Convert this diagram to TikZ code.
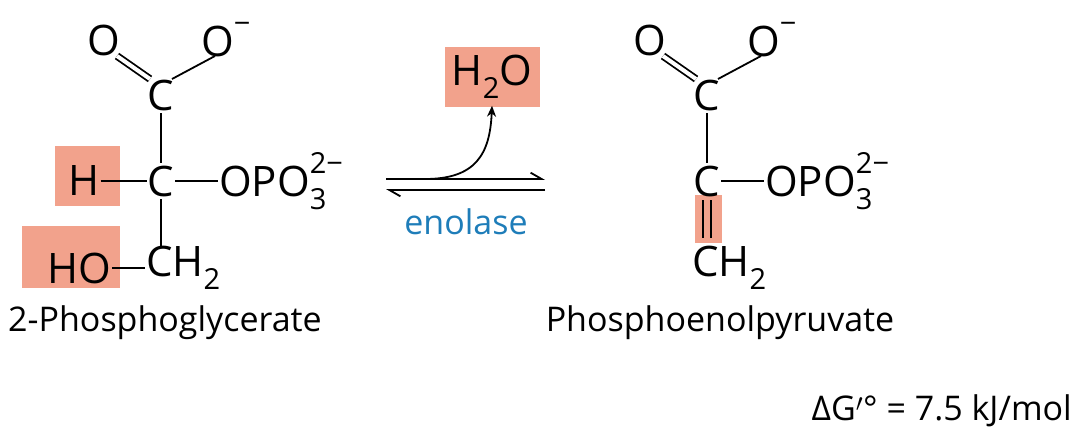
\documentclass[tikz,border=0pt]{standalone}
\usepackage{fontspec}
\setmainfont{Open Sans}
\usetikzlibrary{arrows.meta,calc}
\definecolor{hl}{RGB}{242,162,140}
\definecolor{enz}{RGB}{30,125,185}
\newcommand{\supr}[1]{\raisebox{0.55em}{\fontsize{29}{29}\selectfont #1}}
\newcommand{\subr}[1]{\raisebox{-0.3em}{\fontsize{29}{29}\selectfont #1}}
\newcommand{\supsub}[2]{\makebox[0pt][l]{\raisebox{0.55em}{\fontsize{29}{29}\selectfont #1}}\raisebox{-0.3em}{\fontsize{29}{29}\selectfont #2}}
\begin{document}
\begin{tikzpicture}[x=1pt,y=-1pt,
  atom/.style={inner sep=1pt,font=\fontsize{42}{42}\selectfont},
  lbl/.style={inner sep=0pt,font=\fontsize{34}{34}\selectfont},
  bond/.style={line width=1.8pt},
  dbl/.style={line width=1.8pt,double,double distance=4pt}]
\useasboundingbox (0,0) rectangle (1082,442);
% highlight boxes
\fill[hl] (55,146) rectangle (120,206);
\fill[hl] (22,226) rectangle (120,288);
\fill[hl] (445,47) rectangle (540,107);
\fill[hl] (695,195) rectangle (722,243);
% left molecule
\node[atom] (L1) at (161,95) {C};
\node[atom] (L2) at (161,181) {C};
\node[atom,anchor=west] (L3) at (145,268) {CH\subr{2}};
\node[atom] (LOa) at (104,40) {O};
\node[atom,anchor=west] (LOb) at (200,40) {O\supr{−}};
\node[atom] (LH) at (84,181) {H};
\node[atom,anchor=east] (LHO) at (112,268) {HO};
\node[atom,anchor=west] (LP) at (218,181) {OPO\supsub{2−}{3}};
\draw[dbl] ($(L1)+(-11,-16)$) -- ($(LOa)+(13,16)$);
\draw[bond] ($(L1)+(11,-16)$) -- ($(LOb.west)+(15,16)$);
\draw[bond] ($(L1)+(0,18)$) -- ($(L2)+(0,-18)$);
\draw[bond] ($(L2)+(0,18)$) -- ($(L2)+(0,67)$);
\draw[bond] (LH.east) -- (L2.west);
\draw[bond] (L2.east) -- (LP.west);
\draw[bond] (LHO.east) -- (L3.west);
\node[lbl] (Lname) at (165,323) {2-Phosphoglycerate};
% right molecule
\node[atom] (R1) at (707,95) {C};
\node[atom] (R2) at (707,181) {C};
\node[atom,anchor=west] (R3) at (691,268) {CH\subr{2}};
\node[atom] (ROa) at (650,40) {O};
\node[atom,anchor=west] (ROb) at (746,40) {O\supr{−}};
\node[atom,anchor=west] (RP) at (764,181) {OPO\supsub{2−}{3}};
\draw[dbl] ($(R1)+(-11,-16)$) -- ($(ROa)+(13,16)$);
\draw[bond] ($(R1)+(11,-16)$) -- ($(ROb.west)+(15,16)$);
\draw[bond] ($(R1)+(0,18)$) -- ($(R2)+(0,-18)$);
\draw[bond] (R2.east) -- (RP.west);
\draw[bond] ($(R2)+(-4,19)$) -- ($(R2)+(-4,57)$);
\draw[bond] ($(R2)+(4,19)$) -- ($(R2)+(4,57)$);
\node[lbl] (Rname) at (720,323) {Phosphoenolpyruvate};
% reaction arrows
\coordinate (a1) at (386,179); \coordinate (a2) at (545,179);
\coordinate (b1) at (545,190); \coordinate (b2) at (386,190);
\draw[bond,-{Straight Barb[left,length=11pt,width=0pt 7]}] (a1) -- (a2);
\draw[bond,-{Straight Barb[left,length=11pt,width=0pt 7]}] (b1) -- (b2);
\node[atom] (W) at (492,77) {H\subr{2}O};
\coordinate (c0) at (425,179);
\draw[bond,-{Stealth[length=11pt,width=9pt]}] (c0) .. controls (475,179) and (490,155) .. ($(W.south)+(0,6)$);
\node[lbl,text=enz] (E) at (466,222) {enolase};
\node[lbl,anchor=east] (dG) at (1072,411) {ΔG$'$° = 7.5 kJ/mol};
\end{tikzpicture}
\end{document}
